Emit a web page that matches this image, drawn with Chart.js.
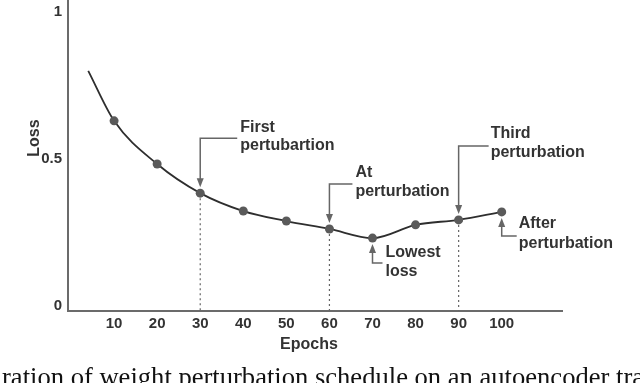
<!DOCTYPE html>
<html>
<head>
<meta charset="utf-8">
<script src="https://cdn.jsdelivr.net/npm/chart.js@4"></script>
<style>
  html, body { margin: 0; padding: 0; background: #fff; }
  #wrap { width: 640px; height: 383px; }
</style>
</head>
<body>
<div id="wrap"><canvas id="chart" width="640" height="383"></canvas></div>
<script>
// data
var epochs = [4, 10, 20, 30, 40, 50, 60, 70, 80, 90, 100];
var loss = [0.80, 0.63, 0.483, 0.384, 0.323, 0.289, 0.262, 0.231, 0.276, 0.293, 0.32];
var xTicks = [10, 20, 30, 40, 50, 60, 70, 80, 90, 100];
var yTicks = [0, 0.5, 1];
var yTickLabels = ['0', '0.5', '1'];
var dottedAt = [30, 60, 90];

// callouts: which epoch, text, and pixel offsets from the point
var callouts = [
  { epoch: 30, lines: ['First', 'pertubartion'], elbow: -55, arm: 37, tx: 40, ty: [-66, -48] },
  { epoch: 60, lines: ['At', 'perturbation'], elbow: -45, arm: 23, tx: 26, ty: [-56, -37] },
  { epoch: 90, lines: ['Third', 'perturbation'], elbow: -74, arm: 30, tx: 32, ty: [-86, -67] },
  { epoch: 70, lines: ['Lowest', 'loss'], elbow: 25, arm: 10, tx: 13, ty: [14, 33] },
  { epoch: 100, lines: ['After', 'perturbation'], elbow: 24, arm: 15, tx: 17, ty: [12, 32] }
];

var caption = 'ration of weight perturbation schedule on an autoencoder tra';

var textColor = '#333';
var arrowColor = '#666';

Chart.defaults.font.family = "'Liberation Sans', Arial, sans-serif";
Chart.defaults.color = textColor;

var points = epochs.map(function (e, i) { return { x: e, y: loss[i] }; });
var radii = epochs.map(function (e, i) { return i == 0 ? 0 : 4.5; });

function pointFor(chart, epoch) {
  var i = epochs.indexOf(epoch);
  return {
    x: chart.scales.x.getPixelForValue(epoch),
    y: chart.scales.y.getPixelForValue(loss[i])
  };
}

var extras = {
  id: 'extras',
  beforeDatasetsDraw: function (chart) {
    var ctx = chart.ctx;
    var bottom = chart.chartArea.bottom;
    ctx.save();
    ctx.strokeStyle = arrowColor;
    ctx.lineWidth = 1.2;
    ctx.setLineDash([2, 3]);
    dottedAt.forEach(function (e) {
      var p = pointFor(chart, e);
      ctx.beginPath();
      ctx.moveTo(p.x, p.y);
      ctx.lineTo(p.x, bottom);
      ctx.stroke();
    });
    ctx.restore();
  },
  afterDatasetsDraw: function (chart) {
    var ctx = chart.ctx;
    ctx.save();
    callouts.forEach(function (c) {
      var p = pointFor(chart, c.epoch);
      var dir = c.elbow < 0 ? 1 : -1; // arrow points down (1) or up (-1)
      var tipY = p.y - dir * 6;
      var ey = p.y + c.elbow;
      ctx.strokeStyle = arrowColor;
      ctx.fillStyle = arrowColor;
      ctx.lineWidth = 1.5;
      ctx.beginPath();
      ctx.moveTo(p.x + c.arm, ey);
      ctx.lineTo(p.x, ey);
      ctx.lineTo(p.x, tipY - dir * 7);
      ctx.stroke();
      ctx.beginPath();
      ctx.moveTo(p.x, tipY);
      ctx.lineTo(p.x - 3.5, tipY - dir * 9);
      ctx.lineTo(p.x + 3.5, tipY - dir * 9);
      ctx.closePath();
      ctx.fill();

      ctx.fillStyle = textColor;
      ctx.font = "bold 16px 'Liberation Sans', Arial, sans-serif";
      ctx.textAlign = 'left';
      ctx.textBaseline = 'middle';
      c.lines.forEach(function (t, k) {
        ctx.fillText(t, p.x + c.tx, p.y + c.ty[k]);
      });
    });
    ctx.restore();
  },
  afterDraw: function (chart) {
    var ctx = chart.ctx;
    ctx.save();
    ctx.fillStyle = textColor;
    ctx.font = "bold 16px 'Liberation Sans', Arial, sans-serif";
    ctx.textAlign = 'center';
    ctx.textBaseline = 'middle';
    ctx.fillText('Epochs', 309, 345);
    ctx.translate(35, 138);
    ctx.rotate(-Math.PI / 2);
    ctx.fillText('Loss', 0, 0);
    ctx.restore();

    // caption runs off both edges of the picture
    ctx.save();
    ctx.fillStyle = '#111';
    ctx.font = "24px 'Liberation Serif', 'Times New Roman', serif";
    var size = 24 * 642 / ctx.measureText(caption).width;
    ctx.font = size.toFixed(2) + "px 'Liberation Serif', 'Times New Roman', serif";
    ctx.textAlign = 'left';
    ctx.textBaseline = 'alphabetic';
    ctx.fillText(caption, 2, 386);
    ctx.restore();
  }
};

var config = {
  type: 'line',
  data: {
    datasets: [{
      data: points,
      borderColor: '#2e2e2e',
      borderWidth: 1.8,
      cubicInterpolationMode: 'monotone',
      pointRadius: radii,
      pointBackgroundColor: '#5a5a5a',
      pointBorderColor: '#5a5a5a',
      pointBorderWidth: 0,
      fill: false
    }]
  },
  plugins: [extras],
  options: {
    responsive: false,
    animation: false,
    events: [],
    layout: { autoPadding: false, padding: { left: 0, right: 78, top: 0, bottom: 0 } },
    plugins: {
      legend: { display: false },
      tooltip: { enabled: false }
    },
    scales: {
      x: {
        type: 'linear',
        min: -0.7,
        max: 114,
        grid: { display: false, drawTicks: false },
        border: { display: true, color: '#6b6b6b', width: 2 },
        afterBuildTicks: function (scale) {
          scale.ticks = xTicks.map(function (v) { return { value: v }; });
        },
        afterFit: function (scale) {
          scale.height = 72;
          scale.paddingLeft = 0;
          scale.paddingRight = 0;
        },
        ticks: {
          padding: 4,
          maxRotation: 0,
          autoSkip: false,
          color: textColor,
          font: { size: 15, weight: 'bold' }
        }
      },
      y: {
        type: 'linear',
        min: -0.017,
        max: 1.041,
        grid: { display: false, drawTicks: false },
        border: { display: true, color: '#6b6b6b', width: 2 },
        afterBuildTicks: function (scale) {
          scale.ticks = yTicks.map(function (v) { return { value: v }; });
        },
        afterFit: function (scale) {
          scale.width = 68;
          scale.paddingTop = 0;
          scale.paddingBottom = 0;
        },
        ticks: {
          padding: 6,
          color: textColor,
          font: { size: 15, weight: 'bold' },
          callback: function (v) { return yTickLabels[yTicks.indexOf(v)]; }
        }
      }
    }
  }
};

var chart = new Chart(document.getElementById('chart'), config);
</script>
</body>
</html>
